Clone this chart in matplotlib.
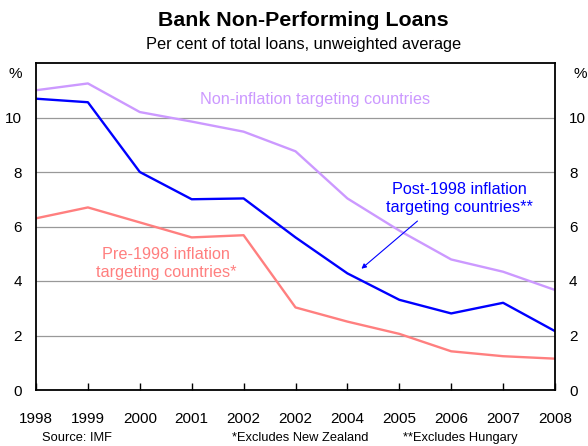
import matplotlib
matplotlib.use("Agg")
import matplotlib.pyplot as plt

plt.rcParams["font.family"] = ["Liberation Sans", "DejaVu Sans"]

years = ["1998", "1999", "2000", "2001", "2002", "2002", "2004", "2005", "2006", "2007", "2008"]
non_it = [11.0, 11.25, 10.2, 9.85, 9.48, 8.76, 7.03, 5.85, 4.79, 4.34, 3.67]
post_1998 = [10.69, 10.56, 8.0, 7.0, 7.03, 5.6, 4.28, 3.31, 2.81, 3.2, 2.16]
pre_1998 = [6.3, 6.7, 6.15, 5.6, 5.68, 3.03, 2.51, 2.06, 1.42, 1.24, 1.15]
yticks = [0, 2, 4, 6, 8, 10]

PURPLE = "#CC99FF"
BLUE = "#0000FF"
RED = "#FF7F7F"

fig = plt.figure(figsize=(5.88, 4.46), dpi=100)
ax = fig.add_axes([36/588, 1-390/446, (555-36)/588, (390-63)/446])

x = range(len(years))
ax.plot(x, non_it, color=PURPLE, lw=1.7)
ax.plot(x, post_1998, color=BLUE, lw=1.7)
ax.plot(x, pre_1998, color=RED, lw=1.7)

ax.set_xlim(0, len(years)-1)
ax.set_ylim(0, 12)
ax.set_yticks(yticks)
ax.yaxis.grid(True, color="#999999", lw=0.9)
ax.set_axisbelow(True)
ax.tick_params(axis="y", length=0, labelsize=11, pad=10, labelright=True)
ax.set_xticks(list(x))
ax.set_xticklabels(years)
ax.tick_params(axis="x", direction="in", length=5, width=1, labelsize=11, pad=16)
for s in ax.spines.values():
    s.set_linewidth(1.3)

fig.text(15.5/588, 1-74/446, "%", fontsize=11, ha="center", va="center")
fig.text(580/588, 1-74/446, "%", fontsize=11, ha="center", va="center")

fig.text(303/588, 1-20/446, "Bank Non-Performing Loans", fontsize=15.4, weight="bold",
         ha="center", va="center")
fig.text(304/588, 1-44/446, "Per cent of total loans, unweighted average", fontsize=11.8,
         ha="center", va="center")

ax.text(5.38, 10.65, "Non-inflation targeting countries", color=PURPLE, fontsize=11.7,
        ha="center", va="center")
ax.text(8.15, 7.04, "Post-1998 inflation\ntargeting countries**", color=BLUE, fontsize=11.7,
        ha="center", va="center", linespacing=1.25)
ax.text(2.5, 4.65, "Pre-1998 inflation\ntargeting countries*", color=RED, fontsize=11.7,
        ha="center", va="center", linespacing=1.25)
ax.annotate("", xy=(6.27, 4.45), xytext=(7.35, 6.2),
            arrowprops=dict(arrowstyle="-|>", color=BLUE, lw=0.8,
                            mutation_scale=7, shrinkA=0, shrinkB=0))

fig.text(42/588, 1-438/446, "Source: IMF", fontsize=9.3, va="center")
fig.text(232/588, 1-438/446, "*Excludes New Zealand", fontsize=9.3, va="center")
fig.text(403/588, 1-438/446, "**Excludes Hungary", fontsize=9.3, va="center")

fig.savefig("out.png", dpi=100)
